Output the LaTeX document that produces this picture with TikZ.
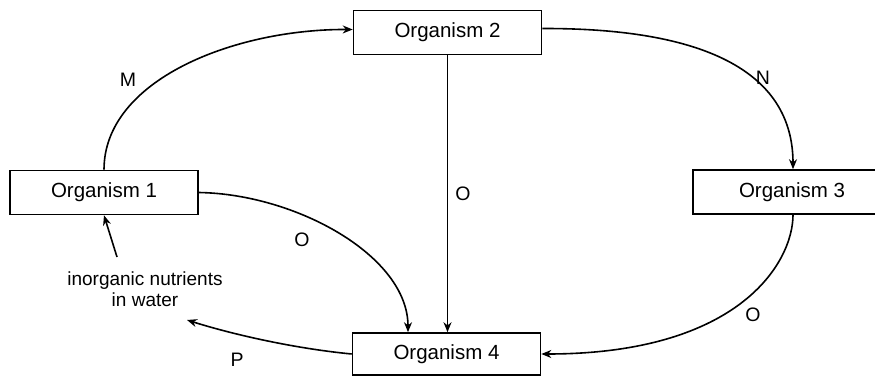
\documentclass[tikz,border=0pt]{standalone}
\usepackage{fontspec}
\setmainfont{Liberation Sans}
\usetikzlibrary{arrows.meta}
\begin{document}
\begin{tikzpicture}[x=1pt,y=-1pt,
  box/.style={draw, line width=1.6pt, minimum width=188pt, minimum height=44pt, inner sep=0pt, font=\fontsize{20.5}{24}\selectfont},
  arr/.style={line width=1.6pt, -{Stealth[length=10pt,width=8pt]}},
  lab/.style={inner sep=0pt, font=\fontsize{19.5}{21}\selectfont}]
\useasboundingbox (0,0) rectangle (875,378);
\clip (0,0) rectangle (875,378);
\fill[white] (0,0) rectangle (875,378);
% boxes
\node[box] (o1) at (104,192.5) {Organism 1};
\node[box] (o2) at (447.5,32.5) {Organism 2};
\node[box, minimum width=198pt] (o3) at (792,192) {Organism 3};
\node[box, minimum height=42pt] (o4) at (446.5,354) {Organism 4};
\node[lab, font=\fontsize{19}{21}\selectfont, align=center] (nut) at (145,289.5) {inorganic nutrients\\in water};
\coordinate (nstart) at (117,257);
\coordinate (pend) at (187,320);
% connectors
\draw[arr] (o1.north) .. controls (104,80) and (234,29) .. ([yshift=3pt]o2.west);
\draw[arr] ([yshift=4pt]o2.east) .. controls (742,28) and (793,94) .. ([xshift=1pt]o3.north);
\draw[arr] (o2.south) -- (o2.south |- o4.north);
\draw[arr] (o1.east) .. controls (296,194) and (408,256) .. ([xshift=-38.5pt]o4.north);
\draw[arr] ([xshift=1pt]o3.south) .. controls (793,262) and (740,354) .. (o4.east);
\draw[arr] (o4.west) .. controls (290,348) and (228,333) .. (pend);
\draw[arr] (nstart) -- (o1.south);
% labels
\node[lab] (lm) at (128,80) {M};
\node[lab] (ln) at (763,78) {N};
\node[lab] (lo1) at (463,194) {O};
\node[lab] (lo2) at (302,240) {O};
\node[lab] (lo3) at (753,315) {O};
\node[lab] (lp) at (237,360) {P};
\end{tikzpicture}
\end{document}
